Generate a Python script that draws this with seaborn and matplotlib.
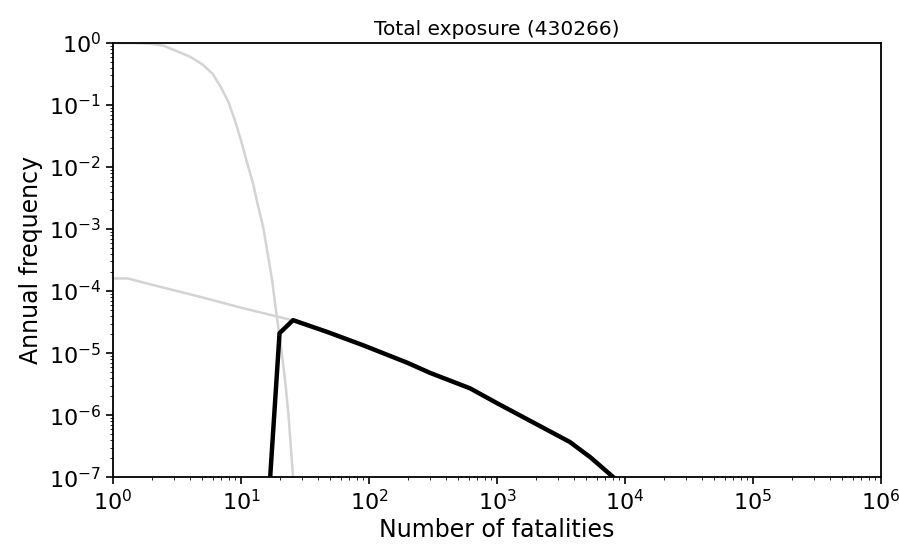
import seaborn as sns
import matplotlib.pyplot as plt
import pandas as pd

# steep grey curve
steep_x = [1, 1.5, 2, 2.5, 3, 4, 5, 6, 7, 8, 9, 10, 11, 12.4, 13.5, 15, 16, 17.5, 19, 20.5, 22, 23.5, 25.5]
steep_y = [1.0, 0.995, 0.97, 0.9, 0.77, 0.6, 0.45, 0.32, 0.19, 0.11, 0.055, 0.027, 0.013,
           0.0055, 0.0025, 1e-3, 4.5e-4, 1.5e-4, 4e-5, 1.3e-5, 4e-6, 1e-6, 1e-7]

# shallow grey curve
shallow_x = [1, 1.3, 2, 5, 10, 25]
shallow_y = [1.6e-4, 1.6e-4, 1.27e-4, 7.9e-5, 5.4e-5, 3.4e-5]

# total (black)
total_x = [16.9, 20, 25.5, 47, 89, 199, 300, 617, 1000, 1600, 3700, 5350, 8100]
total_y = [1e-7, 2.1e-5, 3.4e-5, 2.2e-5, 1.35e-5, 7e-6, 4.8e-6, 2.7e-6, 1.56e-6, 9.3e-7, 3.7e-7, 2.1e-7, 1e-7]

plt.rcParams['font.family'] = ['DejaVu Sans']

fig = plt.figure(figsize=(8.99, 5.51), dpi=100)
ax = fig.add_axes([0.1257, 0.134, 0.98 - 0.1257, 0.922 - 0.134])

grey = "#d3d3d3"
sns.lineplot(data=pd.DataFrame({"x": steep_x, "y": steep_y}), x="x", y="y",
             color=grey, linewidth=1.8, ax=ax, sort=False)
sns.lineplot(data=pd.DataFrame({"x": shallow_x, "y": shallow_y}), x="x", y="y",
             color=grey, linewidth=1.8, ax=ax, sort=False)
sns.lineplot(data=pd.DataFrame({"x": total_x, "y": total_y}), x="x", y="y",
             color="black", linewidth=3.2, ax=ax, sort=False)

ax.set_xscale("log")
ax.set_yscale("log")
ax.set_xlim(1, 1e6)
ax.set_ylim(1e-7, 1)
ax.set_xlabel("Number of fatalities", fontsize=17, labelpad=3)
ax.set_ylabel("Annual frequency", fontsize=17)
ax.set_title("Total exposure (430266)", fontsize=14.5)
ax.tick_params(labelsize=16)
ax.tick_params(which="major", length=5, width=1.2)
for s in ax.spines.values():
    s.set_linewidth(1.3)

fig.savefig("out.png", dpi=100)
